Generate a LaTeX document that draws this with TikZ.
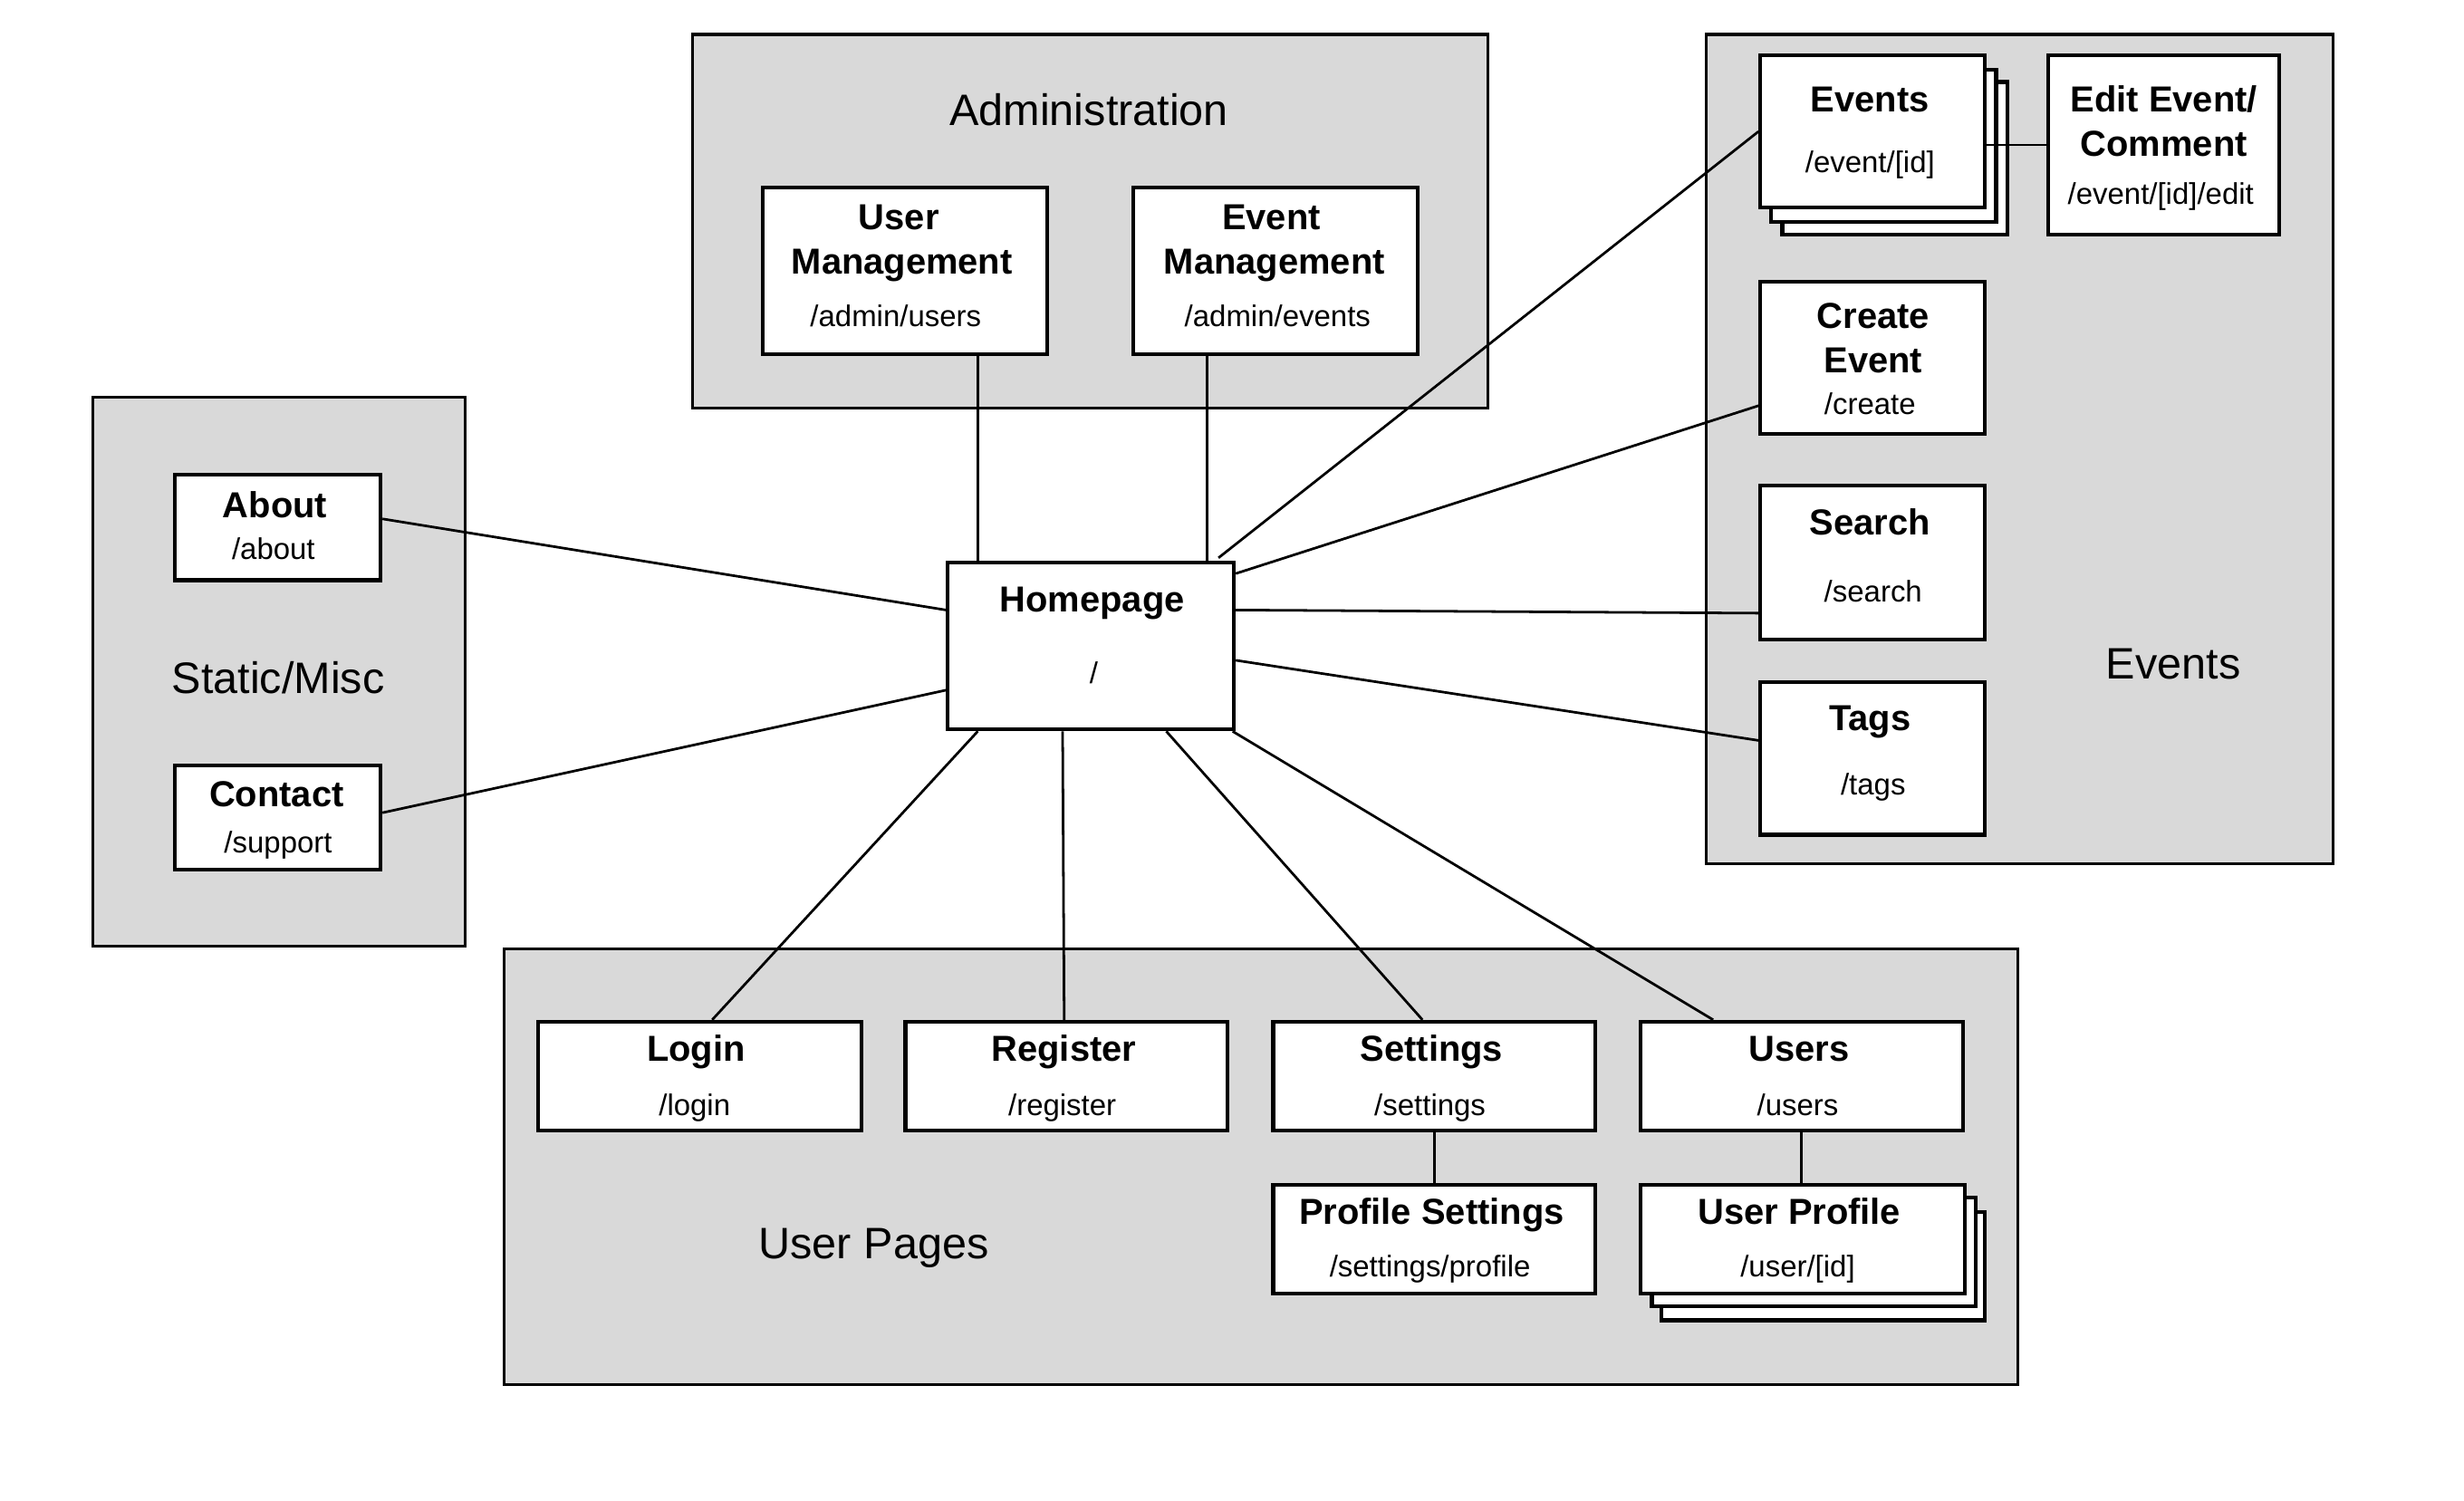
\documentclass[tikz,border=0pt]{standalone}
\usepackage{fontspec}
\setmainfont{Liberation Sans}
\definecolor{grp}{RGB}{217,217,217}
\begin{document}
\begin{tikzpicture}[x=1pt,y=-1pt,
 grpbox/.style={draw=black, fill=grp, line width=1.8pt, inner sep=0, anchor=north west},
 pagebox/.style={draw=black, fill=white, line width=2.4pt, inner sep=0, anchor=north west},
 conn/.style={draw=black, line width=1.6pt},
 ttl/.style={font=\fontsize{23}{27}\selectfont\bfseries, inner sep=0, anchor=base, yshift=-8.2pt},
 pth/.style={font=\fontsize{19}{23}\selectfont, inner sep=0, anchor=base, yshift=-6.8pt},
 glbl/.style={font=\fontsize{28}{32}\selectfont, inner sep=0, anchor=base, yshift=-10pt}]
\useasboundingbox[fill=white] (0,0) rectangle (1568,955);

% groups
\node[grpbox, minimum width=506pt, minimum height=238pt] (gadmin) at (440,21) {};
\node[grpbox, minimum width=237pt, minimum height=349pt] (gstatic) at (58,252) {};
\node[grpbox, minimum width=399pt, minimum height=528pt] (gevents) at (1085,21) {};
\node[grpbox, minimum width=963pt, minimum height=277pt] (guser) at (320,603) {};

\node[glbl] (ladmin) at (693,70) {Administration};
\node[glbl] (lstatic) at (177,431) {Static/Misc};
\node[glbl] (levents) at (1383,422) {Events};
\node[glbl] (luser) at (556,791) {User Pages};

% boxes
\node[pagebox, minimum width=181pt, minimum height=106pt] (um) at (484,118) {};
\node[pagebox, minimum width=181pt, minimum height=106pt] (em) at (720,118) {};
\node[pagebox, minimum width=131pt, minimum height=67pt] (about) at (110,301) {};
\node[pagebox, minimum width=131pt, minimum height=66pt] (contact) at (110,486) {};
\node[pagebox, minimum width=182pt, minimum height=106pt] (home) at (602,357) {};

\node[pagebox, minimum width=143pt, minimum height=97pt] (ev3) at (1133,51) {};
\node[pagebox, minimum width=143pt, minimum height=97pt] (ev2) at (1126,43) {};
\node[pagebox, minimum width=143pt, minimum height=97pt] (ev) at (1119,34) {};
\node[pagebox, minimum width=147pt, minimum height=114pt] (edit) at (1302,34) {};
\node[pagebox, minimum width=143pt, minimum height=97pt] (create) at (1119,178) {};
\node[pagebox, minimum width=143pt, minimum height=98pt] (search) at (1119,308) {};
\node[pagebox, minimum width=143pt, minimum height=97pt] (tags) at (1119,433) {};

\node[pagebox, minimum width=206pt, minimum height=69pt] (login) at (341,649) {};
\node[pagebox, minimum width=205pt, minimum height=69pt] (register) at (575,649) {};
\node[pagebox, minimum width=205pt, minimum height=69pt] (settings) at (809,649) {};
\node[pagebox, minimum width=205pt, minimum height=69pt] (users) at (1043,649) {};
\node[pagebox, minimum width=205pt, minimum height=69pt] (profset) at (809,753) {};
\node[pagebox, minimum width=206pt, minimum height=69pt] (up3) at (1056,770) {};
\node[pagebox, minimum width=206pt, minimum height=69pt] (up2) at (1050,761) {};
\node[pagebox, minimum width=206pt, minimum height=69pt] (up) at (1043,753) {};

% connectors
\draw[conn] ([xshift=46.5pt]um.south) -- ([xshift=-72pt]home.north);
\draw[conn] ([xshift=-43.5pt]em.south) -- ([xshift=74pt]home.north);
\draw[conn] ([yshift=5.5pt]about.east) -- ([yshift=23pt]home.west);
\draw[conn] ([yshift=3pt]contact.east) -- ([yshift=-28pt]home.west);
\draw[conn] ([xshift=-11pt,yshift=2pt]home.north east) -- (ev.west);
\draw[conn] ([yshift=-8.5pt]ev.east) -- ([yshift=0pt]edit.west);
\draw[conn] ([yshift=-8pt]home.north east) -- ([yshift=-30.5pt]create.west);
\draw[conn] ([yshift=23pt]home.east) -- ([yshift=-32pt]search.west);
\draw[conn] ([yshift=-9pt]home.east) -- ([yshift=11.5pt]tags.west);
\draw[conn] ([xshift=-72pt]home.south) -- ([xshift=8pt]login.north);
\draw[conn] ([xshift=-18pt]home.south) -- ([xshift=-1.5pt]register.north);
\draw[conn] ([xshift=48pt]home.south) -- ([xshift=-7.5pt]settings.north);
\draw[conn] ([xshift=-2pt]home.south east) -- ([xshift=-56.5pt]users.north);
\draw[conn] (settings.south) -- (profset.north);
\draw[conn] ([xshift=-0.5pt]users.south) -- ([xshift=-1pt]up.north);

% texts
\node[ttl] (t1) at (572,138) {User};
\node[ttl] (t2) at (574,166) {Management};
\node[pth] (p1) at (570,201) {/admin/users};
\node[ttl] (t3) at (809,138) {Event};
\node[ttl] (t4) at (811,166) {Management};
\node[pth] (p2) at (813,201) {/admin/events};

\node[ttl] (t5) at (175,321) {About};
\node[pth] (p5) at (174,349) {/about};
\node[ttl] (t6) at (176,505) {Contact};
\node[pth] (p6) at (177,536) {/support};

\node[ttl] (t7) at (695,381) {Homepage};
\node[pth] (p7) at (696,428) {/};

\node[ttl] (t8) at (1190,63) {Events};
\node[pth] (p8) at (1190,103) {/event/[id]};
\node[ttl] (t9) at (1377,63) {Edit Event/};
\node[ttl] (t10) at (1377,91) {Comment};
\node[pth] (p9) at (1375,123) {/event/[id]/edit};
\node[ttl] (t11) at (1192,201) {Create};
\node[ttl] (t12) at (1192,229) {Event};
\node[pth] (p10) at (1190,257) {/create};
\node[ttl] (t13) at (1190,332) {Search};
\node[pth] (p11) at (1192,376) {/search};
\node[ttl] (t14) at (1190,457) {Tags};
\node[pth] (p12) at (1192,499) {/tags};

\node[ttl] (t15) at (443,667) {Login};
\node[pth] (p13) at (442,703) {/login};
\node[ttl] (t16) at (677,667) {Register};
\node[pth] (p14) at (676,703) {/register};
\node[ttl] (t17) at (911,667) {Settings};
\node[pth] (p15) at (910,703) {/settings};
\node[ttl] (t18) at (1145,667) {Users};
\node[pth] (p16) at (1144,703) {/users};
\node[ttl] (t19) at (911,771) {Profile Settings};
\node[pth] (p17) at (910,806) {/settings/profile};
\node[ttl] (t20) at (1145,771) {User Profile};
\node[pth] (p18) at (1144,806) {/user/[id]};
\end{tikzpicture}
\end{document}
